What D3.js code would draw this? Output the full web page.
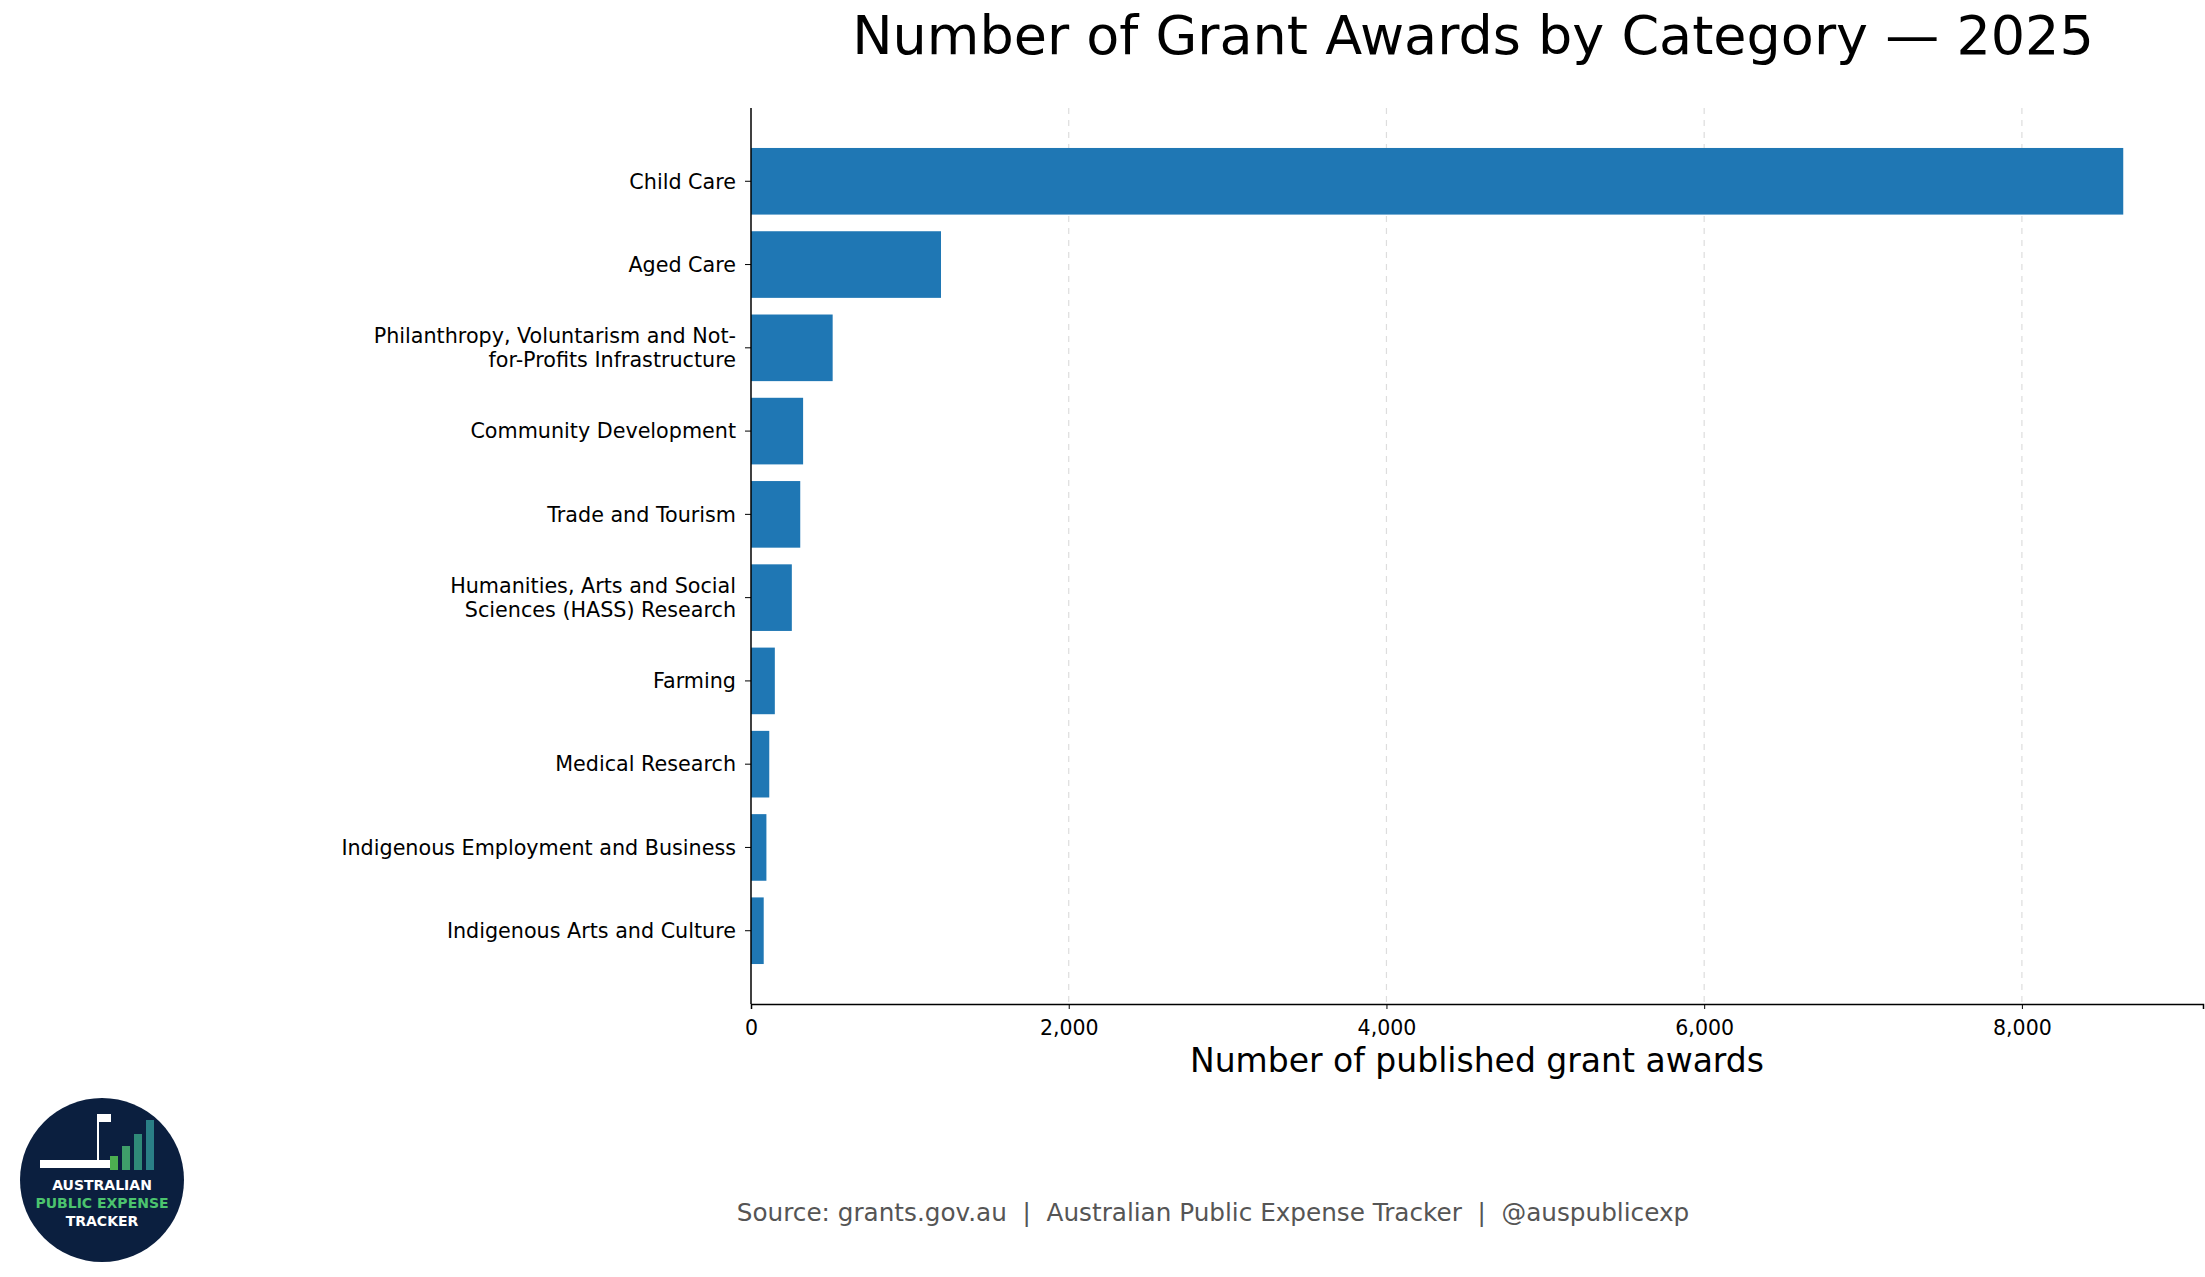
<!DOCTYPE html>
<html><head><meta charset="utf-8">
<script src="https://cdn.jsdelivr.net/npm/d3@7"></script>
<style>body{margin:0;background:#fff;font-family:"DejaVu Sans",sans-serif}</style>
</head><body>
<script>
const categories = [
  ["Child Care"],
  ["Aged Care"],
  ["Philanthropy, Voluntarism and Not-", "for-Profits Infrastructure"],
  ["Community Development"],
  ["Trade and Tourism"],
  ["Humanities, Arts and Social", "Sciences (HASS) Research"],
  ["Farming"],
  ["Medical Research"],
  ["Indigenous Employment and Business"],
  ["Indigenous Arts and Culture"],
];
const values = [8638, 1196, 514, 328, 310, 257, 150, 115, 97, 80];
const xTicks = [0, 2000, 4000, 6000, 8000];

const W = 2205, H = 1277;
const m = { left: 751, right: 2203, top: 108, bottom: 1004 };

const svg = d3.select("body").append("svg").attr("width", W).attr("height", H);

const x = d3.scaleLinear().domain([0, 9140]).range([m.left, m.right]);
const y = d3.scaleBand().domain(d3.range(values.length)).range([m.top, m.bottom])
  .paddingInner(0.2).paddingOuter(0.48);

// GRID
svg.selectAll(".grid").data(xTicks.slice(1)).enter().append("line")
  .attr("x1", d => x(d)).attr("x2", d => x(d))
  .attr("y1", m.top).attr("y2", m.bottom)
  .attr("stroke", "#ddd").attr("stroke-dasharray", "6,6").attr("stroke-width", 1.2);

// BARS
svg.selectAll(".bar").data(values).enter().append("rect")
  .attr("x", x(0)).attr("y", (d, i) => y(i))
  .attr("width", d => x(d) - x(0)).attr("height", y.bandwidth())
  .attr("fill", "#1f77b4");

// AXES
const xAxis = svg.append("g").attr("transform", `translate(0,${m.bottom})`)
  .call(d3.axisBottom(x).tickValues(xTicks).tickFormat(d3.format(",")).tickSizeOuter(0).tickSize(5));
xAxis.selectAll("text").style("font-size", "20.5px").attr("dy", "1.1em").attr("font-family", "DejaVu Sans");
xAxis.select(".domain").attr("stroke-width", 1.5);

svg.append("line").attr("x1", m.left).attr("x2", m.left).attr("y1", m.top).attr("y2", m.bottom)
  .attr("stroke", "#000").attr("stroke-width", 1.5);

svg.selectAll(".ytick").data(categories).enter().append("line")
  .attr("x1", m.left - 6).attr("x2", m.left)
  .attr("y1", (d, i) => y(i) + y.bandwidth() / 2).attr("y2", (d, i) => y(i) + y.bandwidth() / 2)
  .attr("stroke", "#000");

const ylab = svg.selectAll(".ylab").data(categories).enter().append("text")
  .attr("x", m.left - 15)
  .attr("y", (d, i) => y(i) + y.bandwidth() / 2)
  .attr("text-anchor", "end").style("font-size", "20.7px");
ylab.each(function (d) {
  const t = d3.select(this);
  d.forEach((line, j) => {
    t.append("tspan").attr("x", m.left - 15)
      .attr("dy", j === 0 ? `${0.35 - (d.length - 1) * 0.58}em` : "1.16em")
      .text(line);
  });
});

// TITLES
svg.append("text").attr("x", 1473).attr("y", 54).attr("text-anchor", "middle")
  .style("font-size", "54px").text("Number of Grant Awards by Category — 2025");
svg.append("text").attr("x", 1477).attr("y", 1072).attr("text-anchor", "middle")
  .style("font-size", "33px").text("Number of published grant awards");
svg.append("text").attr("x", 1213).attr("y", 1221).attr("text-anchor", "middle")
  .attr("xml:space", "preserve").style("white-space", "pre")
  .style("font-size", "24.7px").attr("fill", "#555")
  .text("Source: grants.gov.au  |  Australian Public Expense Tracker  |  @auspublicexp");

// LOGO
const logo = svg.append("g").attr("transform", "translate(102,1180)");
logo.append("circle").attr("r", 82).attr("fill", "#0b1f3f");
logo.append("line").attr("x1", -4).attr("x2", -4).attr("y1", -66).attr("y2", -20).attr("stroke", "#fff").attr("stroke-width", 2);
logo.append("rect").attr("x", -4).attr("y", -66).attr("width", 13).attr("height", 8).attr("fill", "#fff");
logo.append("rect").attr("x", -62).attr("y", -20).attr("width", 70).attr("height", 8).attr("fill", "#fff");
[[12, -24, "#4caf50"], [24, -34, "#3f9e6a"], [36, -46, "#2f8a78"], [48, -60, "#2a7f86"]].forEach(([bx, by, c]) => {
  logo.append("rect").attr("x", bx - 4).attr("y", by).attr("width", 8).attr("height", -by - 10).attr("fill", c);
});
[["AUSTRALIAN", 10, "#fff"], ["PUBLIC EXPENSE", 28, "#4cc46e"], ["TRACKER", 46, "#fff"]].forEach(([t, ty, c]) => {
  logo.append("text").attr("y", ty).attr("text-anchor", "middle").attr("fill", c)
    .style("font-size", "14px").style("font-weight", "bold").text(t);
});
</script>
</body></html>
